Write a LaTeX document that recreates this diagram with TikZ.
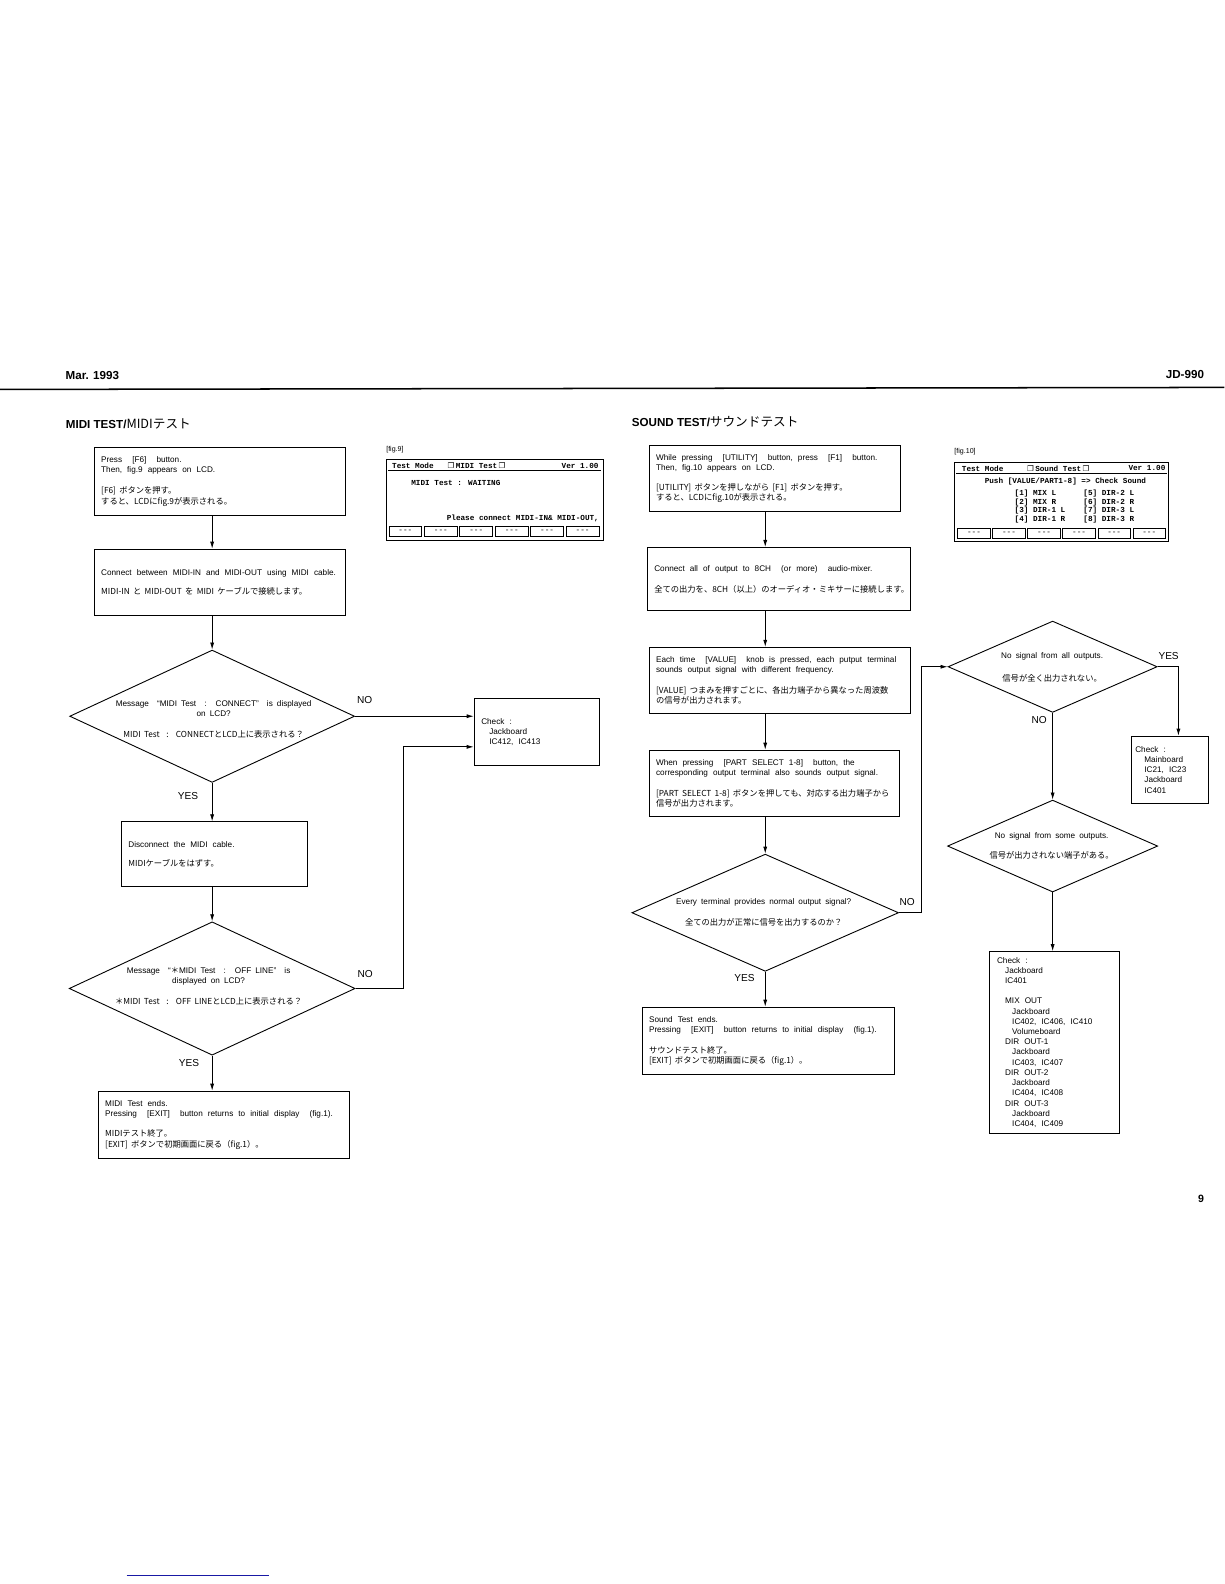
\documentclass[tikz,border=0pt]{standalone}
\usepackage{fontspec}
\setmainfont{Liberation Sans}
\newfontfamily\cjk{Noto Sans CJK JP}
\newfontfamily\lcdfont{Liberation Mono}
\newfontfamily\symfont{DejaVu Sans}
\usetikzlibrary{shapes.geometric,arrows.meta}
\definecolor{linkblue}{RGB}{25,25,165}
\newcommand\jtx[1]{\mbox{\cjk\fontsize{8.2}{10.1}\selectfont\spaceskip 0.4em\relax #1}}
\newcommand\jstar{{\cjk ＊}}
\newcommand\sicon{{\symfont\mdseries\fontsize{7.5}{8}\selectfont ❐}}
\newcommand\indA{\hspace*{8pt}}
\newcommand\indB{\hspace*{15pt}}

\begin{document}
\begin{tikzpicture}[x=1pt,y=-1pt,every node/.style={inner sep=0pt},
  body/.style={font={\fontsize{8.1}{10.1}\selectfont\spaceskip 0.5em plus 0.2em minus 0.1em\relax}},
  box/.style={draw,line width=0.9pt,body,align=left,inner xsep=6.5pt,
    execute at begin node={\spaceskip 0.62em plus 0.1em minus 0.05em\relax}},
  dec/.style={draw,line width=0.9pt,diamond,inner sep=0pt},
  dtx/.style={body,align=center},
  arr/.style={line width=0.8pt,-{Latex[length=7pt,width=4pt]}},
  lab/.style={font=\fontsize{10}{12}\selectfont},
  hd/.style={font=\bfseries\fontsize{11.5}{14}\selectfont},
  lcd/.style={font=\lcdfont\bfseries\fontsize{7.6}{8.6}\selectfont},
  figl/.style={font=\fontsize{7}{8}\selectfont}]
\useasboundingbox (0,0) rectangle (1212,1568);
\node[hd,anchor=west] (date) at (64.8,372) {Mar. 1993};
\node[hd,anchor=east] (model) at (1192,370.3) {JD-990};
\draw[line width=1.5pt] (0,385.5) -- (1212,383.5);
\node[hd,anchor=west] (miditl) at (65,420) {MIDI TEST/{\cjk\mdseries\fontsize{12.5}{14}\selectfont MIDIテスト}};
\node[hd,anchor=west] (soundtl) at (625.3,417.5) {SOUND TEST/{\cjk\mdseries\fontsize{12.5}{14}\selectfont サウンドテスト}};
\node[font=\bfseries\fontsize{10.5}{12}\selectfont] (pg) at (1189,1187) {9};
\draw[linkblue,line width=1pt] (125.4,1559.4) -- (266.3,1559.4);

% MIDI test
\coordinate (lc) at (210,0);
\node[box,text width=235.6pt,minimum height=67pt] (press) at (218,476.5) {Press~ [F6]~ button.\\Then, fig.9 appears on LCD.\\[11pt]\jtx{[F6] ボタンを押す。}\\\jtx{すると、LCDにfig.9が表示される。}};
\node[box,text width=235.6pt,minimum height=65.4pt] (cable) at (218,576.3) {\mbox{Connect between MIDI-IN and MIDI-OUT using MIDI cable.}\\[8.7pt]\jtx{MIDI-IN と MIDI-OUT を MIDI ケーブルで接続します。}};
\node[dec,minimum width=282pt,minimum height=131pt] (conn) at (210,709) {};
\node[dtx] (conntx) at (211.5,712) {Message~ “MIDI Test~ :~ CONNECT”~ is displayed\\on LCD?\\[10pt]\jtx{MIDI Test~ :~ CONNECTとLCD上に表示される？}};
\node[box,inner xsep=7pt,text width=110pt,minimum height=66.6pt] (chk1) at (531.4,724.7) {Check :\\\indA Jackboard\\\indA IC412, IC413};
\node[box,text width=170.4pt,minimum height=63.7pt] (disc) at (212.3,845.4) {Disconnect the MIDI cable.\\[9pt]\jtx{MIDIケーブルをはずす。}};
\node[dec,minimum width=283pt,minimum height=132pt] (offl) at (210,978.5) {};
\node[dtx] (offltx) at (206.5,976) {Message~ “\jstar MIDI Test~ :~ OFF LINE”~ is\\displayed on LCD?\\[10pt]\jtx{＊MIDI Test~ :~ OFF LINEとLCD上に表示される？}};
\node[box,text width=235.3pt,minimum height=66.7pt] (mend) at (221.8,1113.5) {MIDI Test ends.\\\mbox{Pressing~ [EXIT]~ button returns to initial display~ (fig.1).}\\[10pt]\jtx{MIDIテスト終了。}\\\jtx{[EXIT] ボタンで初期画面に戻る（fig.1）。}};
\node[lab] (no1) at (361,693) {NO}; \node[lab] (yes1) at (186,787.8) {YES};
\node[lab] (no2) at (361.5,964.4) {NO}; \node[lab] (yes2) at (187,1052.6) {YES};
\coordinate (ret1) at (398.9,739.3);
\draw[arr] (press.south -| lc) -- (cable.north -| lc);
\draw[arr] (cable.south -| lc) -- (conn.north);
\draw[arr] (conn.east) -- (conn.east -| chk1.west);
\draw[arr] (conn.south) -- (disc.north -| conn.south);
\draw[arr] (disc.south -| lc) -- (offl.north);
\draw[arr] (offl.east) -| (ret1) -- (ret1 -| chk1.west);
\draw[arr] (offl.south) -- (mend.north -| offl.south);

\node[figl,anchor=west] (fig9) at (382.2,445.5) {[fig.9]};
\begin{scope}[shift={(382.2,454.5)}]
\draw[line width=0.9pt] (0,0) rectangle (214.8,80.2);
\draw[line width=1.3pt] (2,11.5) -- (212.8,11.5);
\node[lcd,anchor=west] (hd9a) at (5.8,6.3) {Test Mode};
\node[lcd,anchor=west] (hd9b) at (60.8,6.3) {\sicon\,MIDI Test\,\sicon};
\node[lcd,anchor=east] (hd9c) at (210.5,6.3) {Ver 1.00};
\node[lcd,anchor=west] (wait9) at (24.8,24) {MIDI Test : WAITING};
\node[lcd,anchor=east] (plz9) at (210.8,58.5) {Please connect MIDI-IN\& MIDI-OUT,};
\foreach \i in {0,...,5} {
  \draw[line width=0.8pt] ({2.8+\i*35.08},67) rectangle ++(32.6,9.4);
  \node[lcd,font=\lcdfont\mdseries\fontsize{7.6}{8.6}\selectfont] (btn9\i) at ({19.1+\i*35.08},71.7) {-{}-{}-};
}
\end{scope}

% sound test
\coordinate (rc) at (757.5,0);
\node[box,text width=235.6pt,minimum height=66pt] (util) at (767.3,473.6) {\mbox{While pressing~ [UTILITY]~ button, press~ [F1]~ button.}\\Then, fig.10 appears on LCD.\\[10pt]\jtx{[UTILITY] ボタンを押しながら [F1] ボタンを押す。}\\\jtx{すると、LCDにfig.10が表示される。}};
\node[box,text width=246.8pt,minimum height=62.7pt] (mixer) at (771.1,573.3) {Connect all of output to 8CH~ (or more)~ audio-mixer.\\[10.7pt]\jtx{全ての出力を、8CH（以上）のオーディオ・ミキサーに接続します。}};
\node[box,text width=245pt,minimum height=65.5pt] (value) at (772,673.5) {\mbox{Each time~ [VALUE]~ knob is pressed, each putput terminal}\\sounds output signal with different frequency.\\[10pt]\jtx{[VALUE] つまみを押すごとに、各出力端子から異なった周波数}\\\jtx{の信号が出力されます。}};
\node[box,text width=234pt,minimum height=66pt] (part) at (766.5,775.6) {When pressing~ [PART SELECT 1-8]~ button, the\\\mbox{corresponding output terminal also sounds output signal.}\\[10pt]\jtx{[PART SELECT 1-8] ボタンを押しても、対応する出力端子から}\\\jtx{信号が出力されます。}};
\node[dec,minimum width=264pt,minimum height=116pt] (every) at (757.5,903.5) {};
\node[dtx] (everytx) at (756,903) {Every terminal provides normal output signal?\\[10.7pt]\jtx{全ての出力が正常に信号を出力するのか？}};
\node[box,text width=236pt,minimum height=67pt] (send) at (760.5,1030.5) {Sound Test ends.\\\mbox{Pressing~ [EXIT]~ button returns to initial display~ (fig.1).}\\[10pt]\jtx{サウンドテスト終了。}\\\jtx{[EXIT] ボタンで初期画面に戻る（fig.1）。}};
\node[dec,minimum width=207pt,minimum height=90.4pt] (allsig) at (1042,660) {};
\node[dtx] (allsigtx) at (1041.5,661) {No signal from all outputs.\\[12.5pt]\jtx{信号が全く出力されない。}};
\node[dec,minimum width=208pt,minimum height=91pt] (somesig) at (1042,837.5) {};
\node[dtx] (somesigtx) at (1041,837.5) {No signal from some outputs.\\[10pt]\jtx{信号が出力されない端子がある。}};
\node[box,inner xsep=4.3pt,text width=67.9pt,minimum height=66.3pt] (chkA) at (1157.8,761.9) {Check :\\\hspace*{9pt}Mainboard\\\hspace*{9pt}IC21, IC23\\\hspace*{9pt}Jackboard\\\hspace*{9pt}IC401};
\node[box,inner xsep=8pt,text width=113pt,minimum height=179.5pt] (chkB) at (1043.5,1031.8) {Check :\\\indA Jackboard\\\indA IC401\\[10.1pt]\indA MIX OUT\\\indB Jackboard\\\indB IC402, IC406, IC410\\\indB Volumeboard\\\indA DIR OUT-1\\\indB Jackboard\\\indB IC403, IC407\\\indA DIR OUT-2\\\indB Jackboard\\\indB IC404, IC408\\\indA DIR OUT-3\\\indB Jackboard\\\indB IC404, IC409};
\node[lab] (no3) at (898,893) {NO}; \node[lab] (yes3) at (737,968) {YES};
\node[lab] (yes4) at (1156.8,649.5) {YES}; \node[lab] (no4) at (1028.7,713) {NO};
\coordinate (ret2) at (912.5,660); \coordinate (yx) at (1166.5,0);
\draw[arr] (util.south -| rc) -- (mixer.north -| rc);
\draw[arr] (mixer.south -| rc) -- (value.north -| rc);
\draw[arr] (value.south -| rc) -- (part.north -| rc);
\draw[arr] (part.south -| rc) -- (every.north);
\draw[arr] (every.south) -- (send.north -| every.south);
\draw[arr] (every.east) -| (ret2) -- (allsig.west);
\draw[arr] (allsig.east) -| (chkA.north -| yx);
\draw[arr] (allsig.south) -- (somesig.north);
\draw[arr] (somesig.south) -- (chkB.north -| somesig.south);

\node[figl,anchor=west] (fig10) at (944.6,447.2) {[fig.10]};
\begin{scope}[shift={(944.6,457.8)}]
\draw[line width=0.9pt] (0,0) rectangle (212.2,78.2);
\draw[line width=1.3pt] (2,11) -- (210.2,11);
\node[lcd,anchor=west] (hd10a) at (7.4,5.8) {Test Mode};
\node[lcd,anchor=west] (hd10b) at (72,5.8) {\sicon\,Sound Test\,\sicon};
\node[lcd,anchor=east] (hd10c) at (209.2,5.8) {Ver 1.00};
\node[lcd,anchor=west] (push10) at (30,19.3) {Push [VALUE/PART1-8] => Check Sound};
\foreach \n/\a/\b [count=\k] in {1/MIX L/DIR-2 L,2/MIX R/DIR-2 R,3/DIR-1 L/DIR-3 L,4/DIR-1 R/DIR-3 R} {
  \pgfmathsetmacro\m{int(\n+4)}
  \node[lcd,anchor=west] (row\n) at (59.6,{22.1+\k*8.55}) {[\n] \a};
  \node[lcd,anchor=west] (row\m) at (127.7,{22.1+\k*8.55}) {[\m] \b};
}
\foreach \i in {0,...,5} {
  \draw[line width=0.8pt] ({3.4+\i*34.7},65.2) rectangle ++(32.2,9.6);
  \node[lcd,font=\lcdfont\mdseries\fontsize{7.6}{8.6}\selectfont] (btn10\i) at ({19.5+\i*34.7},70) {-{}-{}-};
}
\end{scope}
\end{tikzpicture}
\end{document}
